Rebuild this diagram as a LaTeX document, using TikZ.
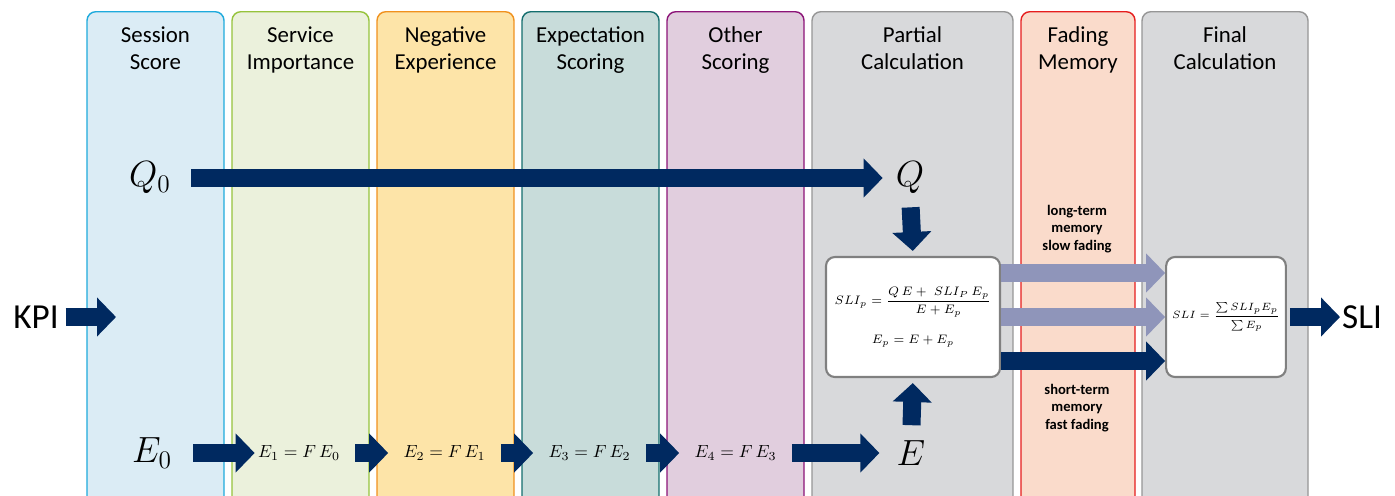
\documentclass[tikz,border=0pt]{standalone}
\usepackage{amsmath}
\usepackage[no-math]{fontspec}
\setmainfont{Carlito}
\usetikzlibrary{arrows.meta,positioning}
\definecolor{arrdark}{RGB}{0,41,96}
\definecolor{arrlight}{RGB}{143,149,186}
\definecolor{sessfill}{RGB}{219,236,245}
\definecolor{sessline}{RGB}{30,170,220}
\definecolor{servfill}{RGB}{235,241,220}
\definecolor{servline}{RGB}{150,195,60}
\definecolor{negfill}{RGB}{253,228,168}
\definecolor{negline}{RGB}{240,145,30}
\definecolor{expfill}{RGB}{200,220,218}
\definecolor{expline}{RGB}{20,110,110}
\definecolor{othfill}{RGB}{225,206,222}
\definecolor{othline}{RGB}{140,20,120}
\definecolor{calcfill}{RGB}{216,217,219}
\definecolor{calcline}{RGB}{150,150,150}
\definecolor{fadefill}{RGB}{250,219,203}
\definecolor{fadeline}{RGB}{230,30,30}
\definecolor{boxgray}{RGB}{128,128,128}
\tikzset{
  col/.style={rectangle,rounded corners=5pt,line width=0.8pt,
              minimum height=10.4cm,anchor=north,inner sep=0pt},
  head/.style={font=\fontsize{13}{15.5}\selectfont,align=center,
               execute at begin node=\strut,execute at end node=\strut},
  big/.style={font=\fontsize{22}{26}\selectfont,inner sep=0pt},
  eqn/.style={font=\fontsize{10}{12}\selectfont,inner sep=0pt,minimum width=1.68cm},
  calcbox/.style={rectangle,rounded corners=5pt,draw=boxgray,line width=1.2pt,
                  fill=white,minimum width=3.48cm,minimum height=2.4cm,align=center},
  note/.style={font=\fontsize{8.3}{10}\selectfont\bfseries,align=center},
  side/.style={font=\fontsize{20}{24}\selectfont,inner sep=1pt},
  blk/.style={-{Triangle[length=0.38cm,width=0.76cm]},line width=0.36cm,arrdark},
  blkl/.style={blk,arrlight},
}

\begin{document}
\begin{tikzpicture}[x=0.02cm,y=-0.02cm]
  \useasboundingbox (0,0) rectangle (1395,495);
  \fill[white] (0,0) rectangle (1395,495);
  \clip (0,0) rectangle (1395,495);
  % stage columns
  \node[col,fill=sessfill,draw=sessline,minimum width=2.74cm] (ss) at (155.5,11) {};
  \node[col,fill=servfill,draw=servline,minimum width=2.74cm] (si) at (300.5,11) {};
  \node[col,fill=negfill,draw=negline,minimum width=2.74cm] (ne) at (445.5,11) {};
  \node[col,fill=expfill,draw=expline,minimum width=2.74cm] (es) at (590.5,11) {};
  \node[col,fill=othfill,draw=othline,minimum width=2.74cm] (os) at (735.5,11) {};
  \node[col,fill=calcfill,draw=calcline,minimum width=4.02cm] (pc) at (912.5,11) {};
  \node[col,fill=fadefill,draw=fadeline,minimum width=2.28cm] (fm) at (1078,11) {};
  \node[col,fill=calcfill,draw=calcline,minimum width=3.32cm] (fc) at (1225,11) {};
  % column titles
  \node[head] (ssh) at (155.5,52) {Session\\Score};
  \node[head] (sih) at (300.5,52) {Service\\Importance};
  \node[head] (neh) at (445.5,52) {Negative\\Experience};
  \node[head] (esh) at (590.5,52) {Expectation\\Scoring};
  \node[head] (osh) at (735.5,52) {Other\\Scoring};
  \node[head] (pch) at (912.5,52) {Partial\\Calculation};
  \node[head] (fmh) at (1078,52) {Fading\\Memory};
  \node[head] (fch) at (1225,52) {Final\\Calculation};
  % scores and weights
  \node[big,minimum width=0.88cm] (q0) at (150,178) {$Q_0$};
  \node[big,minimum width=0.6cm] (q) at (910,178) {$Q$};
  \node[big,minimum width=0.72cm] (e0) at (152,453) {$E_0$};
  \node[eqn] (e1) at (299,453) {$E_1=F\,E_0$};
  \node[eqn] (e2) at (444.5,453) {$E_2=F\,E_1$};
  \node[eqn] (e3) at (589.5,453) {$E_3=F\,E_2$};
  \node[eqn] (e4) at (735.5,453) {$E_4=F\,E_3$};
  \node[big,minimum width=0.44cm] (e) at (911,453) {$E$};
  % calculation boxes
  \node[calcbox,font=\fontsize{7.5}{9}\selectfont] (part) at (913,317)
     {$SLI_p=\dfrac{Q\,E+\;SLI_P\,E_p}{E+E_p}$\\[9pt] $E_p=E+E_p$};
  \node[calcbox,minimum width=2.36cm,font=\fontsize{6}{7}\selectfont] (fin) at (1226,317)
     {$SLI=\dfrac{\sum SLI_pE_p}{\sum E_p}$};
  \node[note] (lt) at (1077,229) {long-term\\memory\\slow fading};
  \node[note] (st) at (1077,408) {short-term\\memory\\fast fading};
  % input and output
  \node[side] (kpi) at (36,317) {KPI};
  \coordinate (kpiend) at (116,317);
  \node[side] (sli) at (1362,317) {SLI};
  % arrows
  \draw[blk,shorten <=0.1cm] (kpi.east) -- (kpiend);
  \draw[blk,shorten <=0.38cm,shorten >=0.24cm] (q0.east) -- (q.west);
  \draw[blk,shorten <=0.42cm,shorten >=0.04cm] (e0.east) -- (e1.west);
  \draw[blk,shorten <=0.28cm,shorten >=0.28cm] (e1.east) -- (e2.west);
  \draw[blk,shorten <=0.28cm,shorten >=0.28cm] (e2.east) -- (e3.west);
  \draw[blk,shorten <=0.28cm,shorten >=0.28cm] (e3.east) -- (e4.west);
  \draw[blk,shorten <=0.28cm,shorten >=0.34cm] (e4.east) -- (e.west);
  \draw[blk,shorten <=0.26cm,shorten >=0.1cm] (q.south) -- (part.north);
  \draw[blk,shorten <=0.3cm,shorten >=0.1cm] (e.north) -- (part.south);
  \draw[blkl] ([yshift=0.88cm]part.east) -- ([yshift=0.88cm]fin.west);
  \draw[blkl] (part.east) -- (fin.west);
  \draw[blk] ([yshift=-0.88cm]part.east) -- ([yshift=-0.88cm]fin.west);
  \draw[blk,shorten <=0.06cm] (fin.east) -- (sli.west);
\end{tikzpicture}
\end{document}
